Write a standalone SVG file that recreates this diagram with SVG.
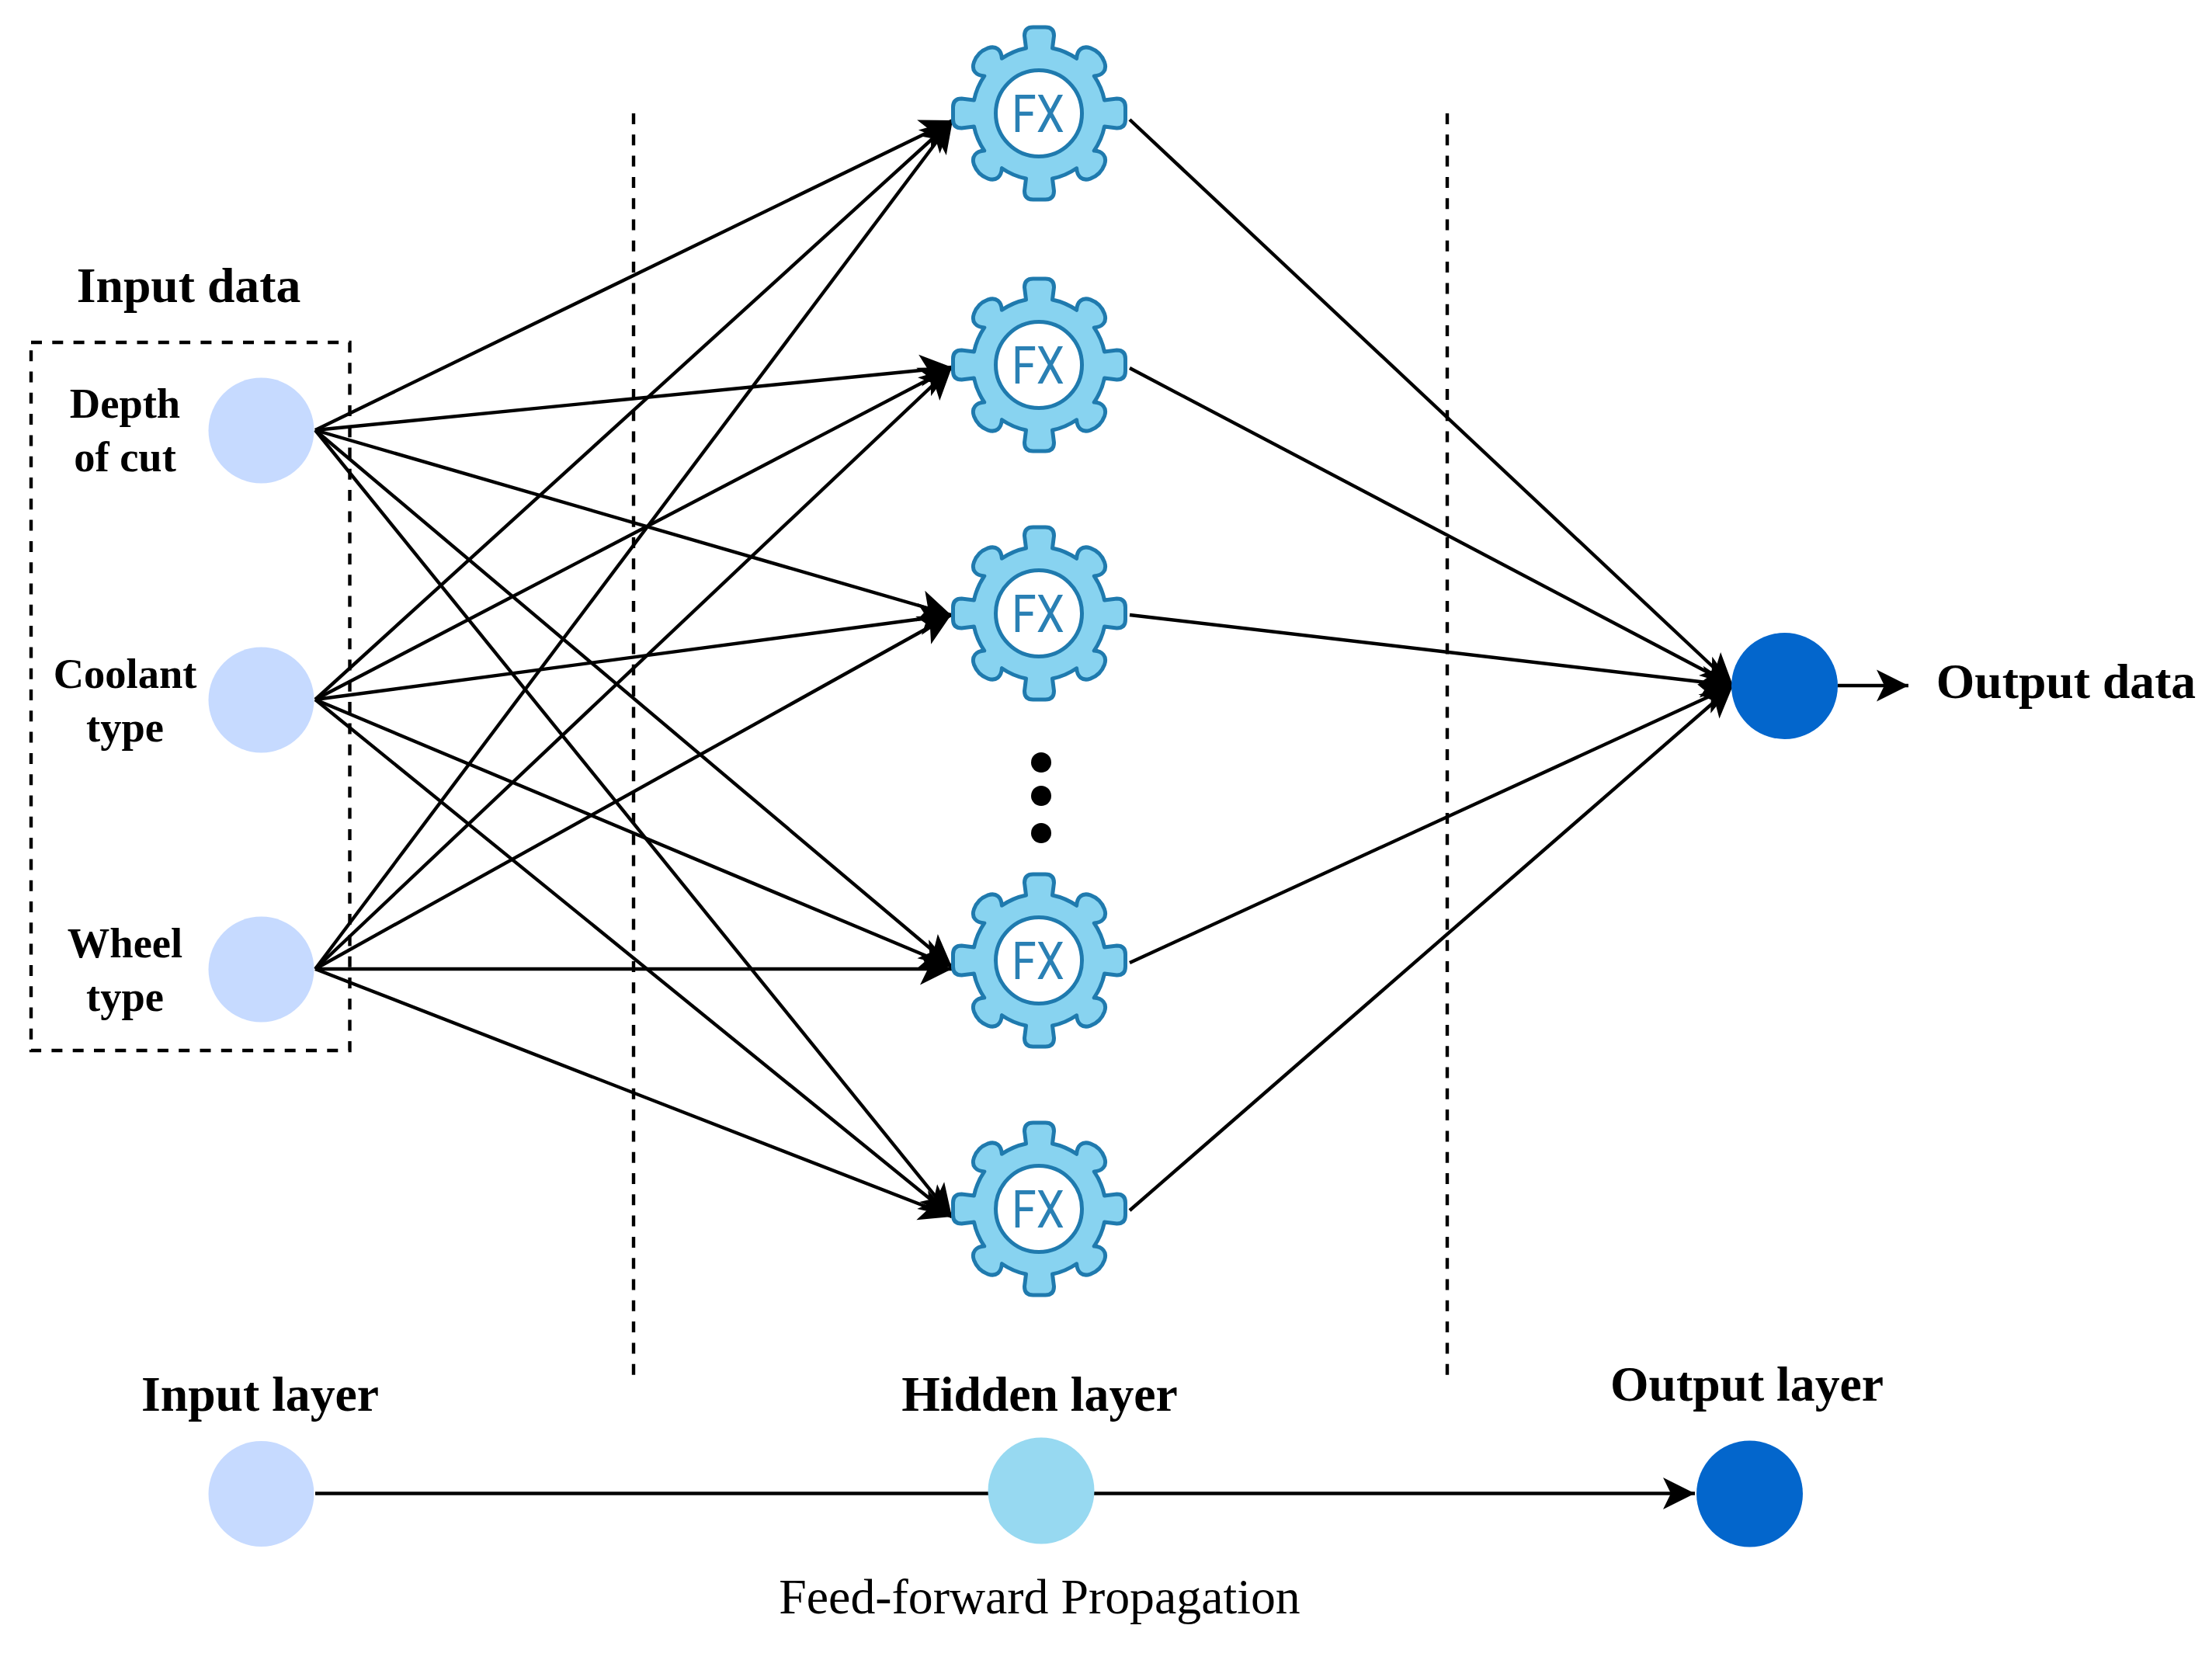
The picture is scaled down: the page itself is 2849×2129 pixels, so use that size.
<svg xmlns="http://www.w3.org/2000/svg" width="2849" height="2129" viewBox="0 0 2849 2129">
<style>
.c{stroke:#000;stroke-width:4.4;fill:none}
.a{marker-end:url(#arrow)}
.d{stroke:#000;stroke-width:4.4;fill:none;stroke-dasharray:14 13.3}
.gear{fill:#88d3f0;stroke:#1f7aae;stroke-width:5;stroke-linejoin:round}
.hole{fill:#fff;stroke:#1f7aae;stroke-width:5}
.fx{font-family:"Roboto","Liberation Sans",sans-serif;font-weight:400;font-size:66px;fill:#2a80b4;text-anchor:middle}
.b{font-family:"Liberation Serif",serif;font-weight:bold;font-size:63.7px;fill:#000;text-anchor:middle}
.s{font-family:"Liberation Serif",serif;font-weight:bold;font-size:54.5px;fill:#000;text-anchor:middle}
.r{font-family:"Liberation Serif",serif;font-size:63.8px;fill:#000;text-anchor:middle}
.in{fill:#c6daff}.hid{fill:#97d9f1}.out{fill:#0366cc}
</style>
<defs>
<marker id="arrow" markerUnits="userSpaceOnUse" markerWidth="44" markerHeight="44" viewBox="0 0 44 44" refX="42" refY="22" orient="auto">
<path d="M42 22L1 1.5L11 22L1 42.5Z" fill="#000"/>
</marker>
<path id="g" class="gear" d="M-17-84L-19-100Q-19-111-8-111L8-111Q19-111 19-100L17-84A85.6 85.6 0 0 1 48.1-70.7C48.8-81.3 55.2-87.7 65.8-84.1Q79.2-79.2 84.1-65.8C87.7-55.2 81.3-48.8 70.7-48.1A85.6 85.6 0 0 1 84-17L100-19Q111-19 111-8L111 8Q111 19 100 19L84 17A85.6 85.6 0 0 1 70.7 48.1C81.3 48.8 87.7 55.2 84.1 65.8Q79.2 79.2 65.8 84.1C55.2 87.7 48.8 81.3 48.1 70.7A85.6 85.6 0 0 1 17 84L19 100Q19 111 8 111L-8 111Q-19 111-19 100L-17 84A85.6 85.6 0 0 1-48.1 70.7C-48.8 81.3-55.2 87.7-65.8 84.1Q-79.2 79.2-84.1 65.8C-87.7 55.2-81.3 48.8-70.7 48.1A85.6 85.6 0 0 1-84 17L-100 19Q-111 19-111 8L-111-8Q-111-19-100-19L-84-17A85.6 85.6 0 0 1-70.7-48.1C-81.3-48.8-87.7-55.2-84.1-65.8Q-79.2-79.2-65.8-84.1C-55.2-87.7-48.8-81.3-48.1-70.7A85.6 85.6 0 0 1-17-84Z"/>
</defs>
<rect width="2849" height="2129" fill="#fff"/>
<g id="guides">
<rect class="d" x="40" y="441" width="410.500" height="912"/>
<line class="d" x1="816" y1="146" x2="816" y2="1775"/>
<line class="d" x1="1864" y1="146" x2="1864" y2="1775"/>
</g>
<g id="connectors">
<line class="c a" x1="406" y1="554" x2="1227" y2="155"/>
<line class="c a" x1="406" y1="554" x2="1226" y2="473"/>
<line class="c a" x1="406" y1="554" x2="1225" y2="792"/>
<line class="c a" x1="406" y1="554" x2="1226" y2="1245"/>
<line class="c a" x1="406" y1="554" x2="1226" y2="1567"/>
<line class="c a" x1="406" y1="901" x2="1227" y2="155"/>
<line class="c a" x1="406" y1="901" x2="1226" y2="473"/>
<line class="c a" x1="406" y1="901" x2="1225" y2="792"/>
<line class="c a" x1="406" y1="901" x2="1226" y2="1245"/>
<line class="c a" x1="406" y1="901" x2="1226" y2="1567"/>
<line class="c a" x1="406" y1="1248" x2="1227" y2="155"/>
<line class="c a" x1="406" y1="1248" x2="1226" y2="473"/>
<line class="c a" x1="406" y1="1248" x2="1225" y2="792"/>
<line class="c a" x1="406" y1="1248" x2="1226" y2="1248"/>
<line class="c a" x1="406" y1="1248" x2="1226" y2="1567"/>
<line class="c a" x1="1455" y1="154" x2="2232" y2="883"/>
<line class="c a" x1="1455" y1="474" x2="2232" y2="883"/>
<line class="c a" x1="1455" y1="792" x2="2232" y2="883"/>
<line class="c a" x1="1455" y1="1240" x2="2232" y2="883"/>
<line class="c a" x1="1455" y1="1559" x2="2232" y2="883"/>
<line class="c a" x1="2367" y1="883" x2="2458" y2="883"/>
<line class="c a" x1="406" y1="1923.500" x2="2183" y2="1923.500"/>
</g>
<g id="node-depth"><circle class="in" cx="336.500" cy="554.500" r="68"/><text class="s" x="161" y="538">Depth</text><text class="s" x="161" y="607">of cut</text></g>
<g id="node-coolant"><circle class="in" cx="336.500" cy="901.500" r="68"/><text class="s" x="161" y="886">Coolant</text><text class="s" x="161" y="955">type</text></g>
<g id="node-wheel"><circle class="in" cx="336.500" cy="1248.500" r="68"/><text class="s" x="161" y="1233">Wheel</text><text class="s" x="161" y="1302">type</text></g>
<g id="node-gear1"><use href="#g" x="1338.500" y="146"/><circle class="hole" cx="1338" cy="146" r="55.500"/><text class="fx" x="1337" y="170" textLength="68" lengthAdjust="spacingAndGlyphs">FX</text></g>
<g id="node-gear2"><use href="#g" x="1338.500" y="470"/><circle class="hole" cx="1338" cy="470" r="55.500"/><text class="fx" x="1337" y="494" textLength="68" lengthAdjust="spacingAndGlyphs">FX</text></g>
<g id="node-gear3"><use href="#g" x="1338.500" y="790"/><circle class="hole" cx="1338" cy="790" r="55.500"/><text class="fx" x="1337" y="814" textLength="68" lengthAdjust="spacingAndGlyphs">FX</text></g>
<g id="node-gear4"><use href="#g" x="1338.500" y="1237"/><circle class="hole" cx="1338" cy="1237" r="55.500"/><text class="fx" x="1337" y="1261" textLength="68" lengthAdjust="spacingAndGlyphs">FX</text></g>
<g id="node-gear5"><use href="#g" x="1338.500" y="1557"/><circle class="hole" cx="1338" cy="1557" r="55.500"/><text class="fx" x="1337" y="1581" textLength="68" lengthAdjust="spacingAndGlyphs">FX</text></g>
<g id="ellipsis"><circle cx="1341" cy="982" r="13"/><circle cx="1341" cy="1025" r="13"/><circle cx="1341" cy="1073" r="13"/></g>
<g id="node-output"><circle class="out" cx="2298.500" cy="883.500" r="68.500"/></g>
<g id="legend-input"><circle class="in" cx="336.500" cy="1924" r="68"/></g>
<g id="legend-hidden"><circle class="hid" cx="1341" cy="1920" r="68.500"/></g>
<g id="legend-output"><circle class="out" cx="2253.500" cy="1924" r="68.500"/></g>
<g id="labels">
<text class="b" x="243" y="389">Input data</text>
<text class="b" x="2661" y="899">Output data</text>
<text class="b" x="335" y="1817">Input layer</text>
<text class="b" x="1339" y="1817">Hidden layer</text>
<text class="b" x="2250" y="1804">Output layer</text>
<text class="r" x="1339" y="2078">Feed-forward Propagation</text>
</g>
</svg>
